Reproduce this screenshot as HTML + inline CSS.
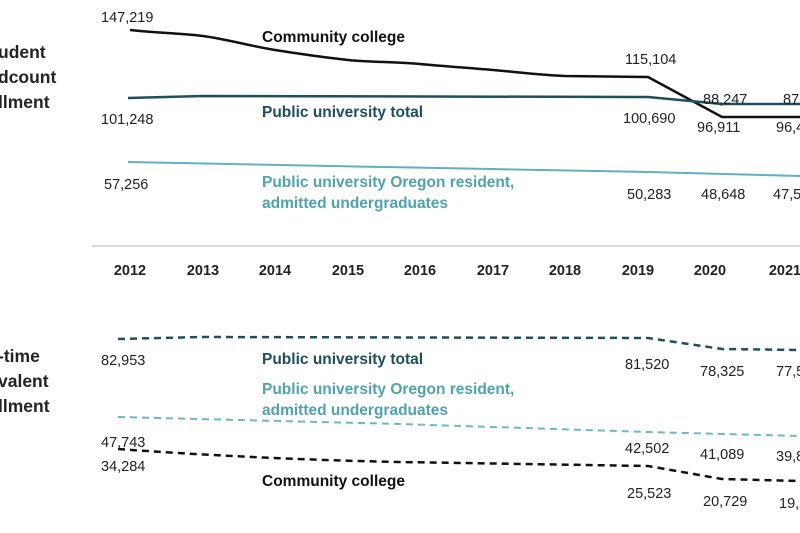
<!DOCTYPE html>
<html><head><meta charset="utf-8"><style>
body{margin:0;background:#fff}
svg{display:block;font-family:"Liberation Sans",sans-serif}
.n{font-size:14.5px;fill:#222}
.t{font-size:17.5px;font-weight:bold;fill:#222}
.y{font-size:14.5px;font-weight:bold;fill:#222}
.l{font-size:15.5px;font-weight:bold}
</style></head><body>
<svg width="800" height="533" viewBox="0 0 800 533">
<text class="t" x="-2" y="58">udent</text>
<text class="t" x="-2" y="83">dcount</text>
<text class="t" x="-2" y="108">llment</text>
<text class="t" x="-2" y="362">-time</text>
<text class="t" x="-2" y="387">valent</text>
<text class="t" x="-2" y="412">llment</text>

<path d="M130,30 C170,34 180,33 203,36 S250,46 275,50 S330,58 348,60 S400,62 420,64 S470,68 493,70 S540,75 565,76 L648,77 L722,117 L800,117" fill="none" stroke="#111" stroke-width="2.5"/>
<path d="M128,98 L203,96 L648,97 L722,104 L800,104" fill="none" stroke="#1d4f5c" stroke-width="2.5"/>
<path d="M128,162 L280,165 L648,172 L800,176" fill="none" stroke="#5fb1bd" stroke-width="2"/>
<line x1="92" y1="246" x2="800" y2="246" stroke="#ccc" stroke-width="1.5"/>

<text class="n" x="101" y="22">147,219</text>
<text class="n" x="101" y="124">101,248</text>
<text class="n" x="104" y="189">57,256</text>
<text class="n" x="625" y="64">115,104</text>
<text class="n" x="623" y="123">100,690</text>
<text class="n" x="703" y="104">88,247</text>
<text class="n" x="783" y="104">87,8</text>
<text class="n" x="697" y="132">96,911</text>
<text class="n" x="776" y="132">96,4</text>
<text class="n" x="627" y="199">50,283</text>
<text class="n" x="701" y="199">48,648</text>
<text class="n" x="773" y="199">47,5</text>

<text class="l" x="262" y="42" fill="#111">Community college</text>
<text class="l" x="262" y="117" fill="#1d4f5c">Public university total</text>
<text class="l" x="262" y="187" fill="#4fa3ae">Public university Oregon resident,</text>
<text class="l" x="262" y="208" fill="#4fa3ae">admitted undergraduates</text>

<g class="y" text-anchor="middle">
<text x="130" y="275">2012</text><text x="203" y="275">2013</text><text x="275" y="275">2014</text><text x="348" y="275">2015</text><text x="420" y="275">2016</text><text x="493" y="275">2017</text><text x="565" y="275">2018</text><text x="638" y="275">2019</text><text x="710" y="275">2020</text><text x="785" y="275">2021</text>
</g>

<path d="M118,339 L203,337 L648,338 L722,349 L800,350" fill="none" stroke="#1d4f5c" stroke-width="2.5" stroke-dasharray="7,5"/>
<path d="M118,417 L400,424 L648,432 L800,436" fill="none" stroke="#6cb8c3" stroke-width="2" stroke-dasharray="7,5"/>
<path d="M118,449 C200,455 300,460 400,462 L648,466 L722,479 L800,481" fill="none" stroke="#111" stroke-width="2.5" stroke-dasharray="7,5"/>

<text class="n" x="101" y="365">82,953</text>
<text class="n" x="101" y="447">47,743</text>
<text class="n" x="101" y="471">34,284</text>
<text class="n" x="625" y="369">81,520</text>
<text class="n" x="700" y="376">78,325</text>
<text class="n" x="776" y="376">77,5</text>
<text class="n" x="625" y="453">42,502</text>
<text class="n" x="700" y="459">41,089</text>
<text class="n" x="776" y="461">39,8</text>
<text class="n" x="627" y="498">25,523</text>
<text class="n" x="703" y="506">20,729</text>
<text class="n" x="779" y="508">19,2</text>

<text class="l" x="262" y="364" fill="#1d4f5c">Public university total</text>
<text class="l" x="262" y="394" fill="#4fa3ae">Public university Oregon resident,</text>
<text class="l" x="262" y="415" fill="#4fa3ae">admitted undergraduates</text>
<text class="l" x="262" y="486" fill="#111">Community college</text>
</svg>
</body></html>
